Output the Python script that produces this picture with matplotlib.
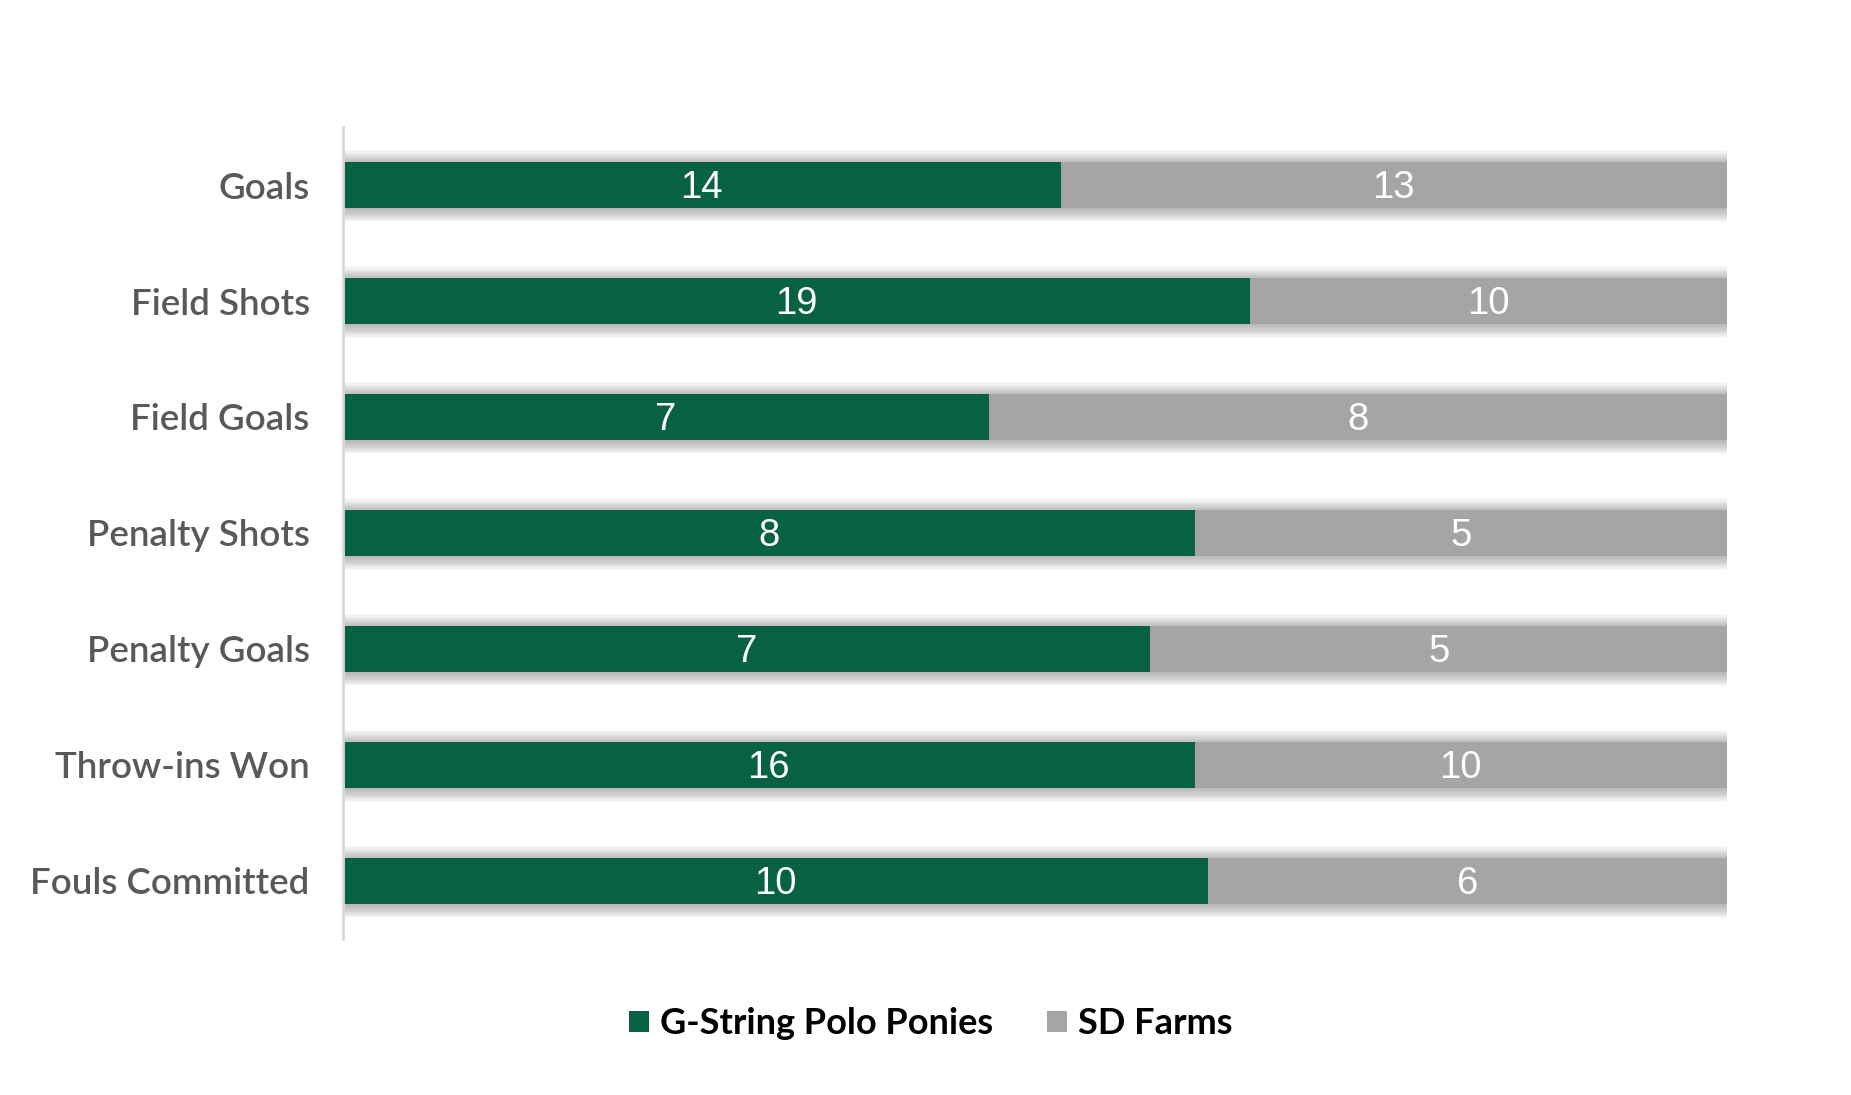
import numpy as np
import matplotlib.pyplot as plt

categories = ["Goals", "Field Shots", "Field Goals", "Penalty Shots",
              "Penalty Goals", "Throw-ins Won", "Fouls Committed"]
gstring = [14, 19, 7, 8, 7, 16, 10]
sdfarms = [13, 10, 8, 5, 5, 10, 6]
series_names = ["G-String Polo Ponies", "SD Farms"]

GREEN = "#066241"
GREY = "#A5A5A5"

fig = plt.figure(figsize=(18.51, 10.95), dpi=100)
ax = fig.add_axes([0.1853, 0.1425, 0.7477, 0.7415])

g = np.array(gstring, dtype=float)
s = np.array(sdfarms, dtype=float)
tot = g + s
gf = g / tot
sf = s / tot
y = np.arange(len(categories))
h = 0.4

# soft shadow around each bar
for k in range(12):
    ax.barh(y + 0.01, 1.002, height=h + 0.018 * (k + 1), left=0,
            color="black", alpha=0.022, linewidth=0, zorder=1)

ax.barh(y, gf, height=h, color=GREEN, label=series_names[0], zorder=3)
ax.barh(y, sf, height=h, left=gf, color=GREY, label=series_names[1], zorder=3)

for i in range(len(categories)):
    ax.text(gf[i] / 2, y[i] + 0.115, str(gstring[i]), ha="center", va="baseline",
            color="white", fontsize=27.5, family="Liberation Sans", zorder=4)
    ax.text(gf[i] + sf[i] / 2, y[i] + 0.115, str(sdfarms[i]), ha="center",
            va="baseline", color="white", fontsize=27.5,
            family="Liberation Sans", zorder=4)

ax.set_xlim(0, 1.0)
ax.set_ylim(len(categories) - 0.5, -0.5)
ax.set_yticks(y)
ax.set_yticklabels(categories, family="Lato", fontsize=26.5, color="#595959",
                   fontweight="semibold")
ax.tick_params(axis="y", length=0, pad=24)
ax.set_xticks([])
for sp in ["top", "right", "bottom"]:
    ax.spines[sp].set_visible(False)
ax.spines["left"].set_color("#D9D9D9")
ax.spines["left"].set_linewidth(2)
ax.spines["left"].set_zorder(5)

leg = fig.legend(loc="center", bbox_to_anchor=(0.503, 0.065), ncol=2,
                 frameon=False, handlelength=0.55, handleheight=0.55,
                 handletextpad=0.3, columnspacing=1.5,
                 prop={"family": "Lato", "size": 26, "weight": "bold"})

fig.savefig("out.png", dpi=100, facecolor="white")
